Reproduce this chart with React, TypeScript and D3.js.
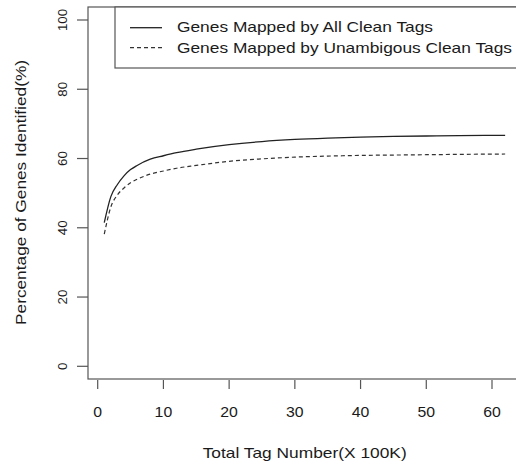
import React from "react";
import * as d3 from "d3";

const tagNumbers = [1, 2, 3, 4, 5, 6, 8, 10, 12, 15, 20, 25, 30, 35, 40, 45, 50, 55, 62];
const allClean = [41.5, 49, 52.5, 55, 56.8, 58, 59.8, 60.8, 61.7, 62.7, 64, 64.9, 65.5, 65.9, 66.2, 66.4, 66.5, 66.6, 66.7];
const unambiguous = [38.2, 46, 49.5, 51.5, 53, 54, 55.5, 56.4, 57.2, 58, 59.2, 59.9, 60.4, 60.7, 60.9, 61.0, 61.1, 61.2, 61.3];
const xTicks = [0, 10, 20, 30, 40, 50, 60];
const yTicks = [0, 20, 40, 60, 80, 100];
const legendLabels = ["Genes Mapped by All Clean Tags", "Genes Mapped by Unambigous Clean Tags"];
const xTitle = "Total Tag Number(X 100K)";
const yTitle = "Percentage of Genes Identified(%)";

const W = 516;
const H = 467;
const FONT = "'Liberation Sans', Arial, Helvetica, sans-serif";

export default function App() {
  const x = d3.scaleLinear().domain([0, 60]).range([97.7, 492]);
  const y = d3.scaleLinear().domain([0, 100]).range([366.3, 20]);
  const line = d3
    .line<[number, number]>()
    .x((d) => x(d[0]))
    .y((d) => y(d[1]))
    .curve(d3.curveMonotoneX);
  const solidPts = tagNumbers.map((t, i) => [t, allClean[i]] as [number, number]);
  const dashPts = tagNumbers.map((t, i) => [t, unambiguous[i]] as [number, number]);

  const boxL = 88, boxT = 7, boxB = 379, boxR = 540;
  const textColor = "#1a1a1a";
  const axisColor = "#555";

  return (
    <svg
      width={W}
      height={H}
      style={{ position: "absolute", left: 0, top: 0, background: "#fff" }}
      fontFamily={FONT}
    >
      <rect x={0} y={0} width={W} height={H} fill="#fff" />
      {/* plot box */}
      <rect x={boxL} y={boxT} width={boxR - boxL} height={boxB - boxT} fill="none" stroke={axisColor} strokeWidth={1.2} />
      {/* y ticks */}
      {yTicks.map((t) => (
        <g key={"y" + t}>
          <line x1={77} x2={boxL} y1={y(t)} y2={y(t)} stroke={axisColor} strokeWidth={1.2} />
          <text
            transform={`translate(67,${y(t)}) rotate(-90)`}
            textAnchor="middle"
            fontSize={13}
            fill={textColor}
            textLength={String(t).length * 7.4}
            lengthAdjust="spacingAndGlyphs"
          >
            {t}
          </text>
        </g>
      ))}
      {/* x ticks */}
      {xTicks.map((t) => (
        <g key={"x" + t}>
          <line x1={x(t)} x2={x(t)} y1={380} y2={389} stroke={axisColor} strokeWidth={1.2} />
          <text
            x={x(t)}
            y={417}
            textAnchor="middle"
            fontSize={14}
            fill={textColor}
            textLength={String(t).length * 8.8}
            lengthAdjust="spacingAndGlyphs"
          >
            {t}
          </text>
        </g>
      ))}
      {/* axis titles */}
      <text
        x={304.7}
        y={458}
        textAnchor="middle"
        fontSize={14.5}
        fill={textColor}
        textLength={204}
        lengthAdjust="spacingAndGlyphs"
      >
        {xTitle}
      </text>
      <text
        transform={`translate(26,192.5) rotate(-90)`}
        textAnchor="middle"
        fontSize={14.5}
        fill={textColor}
        textLength={265}
        lengthAdjust="spacingAndGlyphs"
      >
        {yTitle}
      </text>
      {/* curves */}
      <path d={line(solidPts) || ""} fill="none" stroke="#222" strokeWidth={1.3} />
      <path d={line(dashPts) || ""} fill="none" stroke="#333" strokeWidth={1.2} strokeDasharray="4,3" />
      {/* legend */}
      <rect x={115} y={boxT} width={boxR - 115} height={68 - boxT} fill="#fff" stroke={axisColor} strokeWidth={1.2} />
      <line x1={130} x2={162} y1={27.7} y2={27.7} stroke="#222" strokeWidth={1.3} />
      <line x1={130} x2={162} y1={47.7} y2={47.7} stroke="#333" strokeWidth={1.2} strokeDasharray="4,3" />
      <text x={177} y={31.8} fontSize={15} fill={textColor} textLength={256} lengthAdjust="spacingAndGlyphs">
        {legendLabels[0]}
      </text>
      <text x={177} y={52.6} fontSize={15} fill={textColor} textLength={335} lengthAdjust="spacingAndGlyphs">
        {legendLabels[1]}
      </text>
    </svg>
  );
}
